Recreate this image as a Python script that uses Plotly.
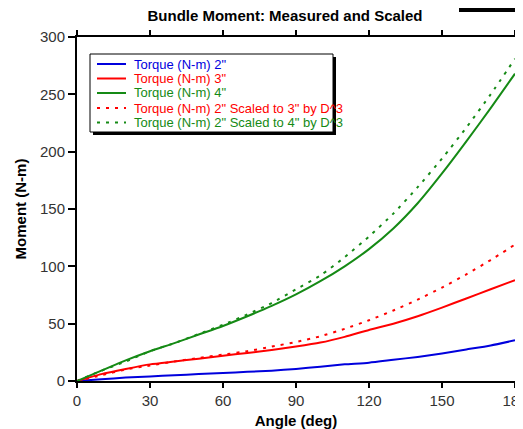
import plotly.graph_objects as go

angle = [0, 10, 20, 30, 40, 50, 60, 70, 80, 90, 100, 110, 120, 130, 140, 150, 160, 170, 180]
torque_2in = [0, 1.5, 3, 4, 5, 6, 7, 8, 9, 10.5, 12.5, 14.5, 16, 18.5, 21, 24, 27.5, 31, 35.5]
torque_3in = [0, 6, 10.5, 14.5, 17, 19.5, 22, 24.5, 27, 30, 33.5, 38.5, 44.5, 50, 56.5, 64, 72, 80, 88]
torque_4in = [0, 9, 18, 26, 33, 40.5, 48, 56.5, 65.5, 75.5, 87, 100, 115, 133, 155, 181, 209, 238, 268]
scaled_2to3 = [0, 5, 10, 13.5, 17, 20, 23, 26, 30, 34, 39, 45.5, 53, 61.5, 71, 81.5, 93, 105.5, 119]
scaled_2to4 = [0, 9, 17, 26, 33, 41, 49, 58, 68, 80, 92, 108, 126, 146, 169, 194, 221, 250, 281]

series_names = [
    "Torque (N-m) 2\"",
    "Torque (N-m) 3\"",
    "Torque (N-m) 4\"",
    "Torque (N-m) 2\" Scaled to 3\" by D^3",
    "Torque (N-m) 2\" Scaled to 4\" by D^3",
]

x_ticks = [0, 30, 60, 90, 120, 150, 180]
y_ticks = [0, 50, 100, 150, 200, 250, 300]

BLUE = "#0000dd"
RED = "#ff0000"
GREEN = "#158a15"
FONT = "Liberation Sans, Arial, sans-serif"

values = [torque_2in, torque_3in, torque_4in, scaled_2to3, scaled_2to4]
colors = [BLUE, RED, GREEN, RED, GREEN]
dashes = ["solid", "solid", "solid", "3px,6px", "3px,6px"]

fig = go.Figure()
for name, vals, col, dash in zip(series_names, values, colors, dashes):
    fig.add_trace(go.Scatter(
        x=angle, y=vals, mode="lines", name=name, showlegend=False,
        line=dict(color=col, width=2, dash=dash, shape="spline", smoothing=0.6),
    ))

# The page body has an 8px margin, so the figure is drawn 8px right/down.
OFF = 8
W, H = 523, 429 - OFF
# plot area in viewport pixels: x 77..515, y 37..381
L = 77 - OFF
T = 37 - OFF
R = W - (515 - OFF)
B = H - (381 - OFF)
pw, ph = W - L - R, H - T - B

def px(x):
    return (x - OFF - L) / pw

def py(y):
    return (H - B - (y - OFF)) / ph

axis_common = dict(
    showline=True, linecolor="black", linewidth=2, mirror="ticks",
    ticks="outside", tickwidth=2, tickcolor="black",
    showgrid=False, zeroline=False, automargin=False,
    ticklabeloverflow="allow",
    tickfont=dict(family=FONT, size=15, color="#333333"),
)

fig.update_layout(
    width=W, height=H,
    margin=dict(l=L, r=R, t=T, b=B),
    paper_bgcolor="white", plot_bgcolor="white",
    title=dict(text="<b>Bundle Moment: Measured and Scaled</b>",
               x=(285 - OFF) / W, xanchor="center", y=1 - (16 - OFF) / H, yanchor="middle",
               font=dict(family=FONT, size=15, color="black")),
    xaxis=dict(range=[0, 180], tickvals=x_ticks, ticklen=5,
               title=dict(text="<b>Angle (deg)</b>", standoff=8,
                          font=dict(family=FONT, size=15, color="black")),
               **axis_common),
    yaxis=dict(range=[0, 300], tickvals=y_ticks, ticklen=7,
               title=dict(text="<b>Moment (N-m)</b>", standoff=10,
                          font=dict(family=FONT, size=15, color="black")),
               **axis_common),
    showlegend=False,
)

# custom legend: shadow, box, samples, labels
fig.add_shape(type="rect", xref="paper", yref="paper",
              x0=px(93), x1=px(336), y0=py(135), y1=py(57),
              fillcolor="black", line=dict(width=0), layer="above")
fig.add_shape(type="rect", xref="paper", yref="paper",
              x0=px(90), x1=px(333), y0=py(132), y1=py(54),
              fillcolor="white", line=dict(color="black", width=1), layer="above")
row_y = [64, 78.5, 93, 108, 122.5]
for name, col, dash, ry in zip(series_names, colors, dashes, row_y):
    fig.add_shape(type="line", xref="paper", yref="paper",
                  x0=px(97), x1=px(126), y0=py(ry), y1=py(ry),
                  line=dict(color=col, width=2, dash=dash), layer="above")
    fig.add_annotation(xref="paper", yref="paper", x=px(132), y=py(ry),
                       xanchor="left", yanchor="middle", showarrow=False,
                       text=name, font=dict(family=FONT, size=13, color=col))

# partial window fragment at top right
fig.add_shape(type="rect", xref="paper", yref="paper",
              x0=px(461), x1=px(535), y0=py(10), y1=py(-6),
              fillcolor="#d8e6f3", line=dict(color="black", width=4), layer="above")

fig.write_html("out.html")
